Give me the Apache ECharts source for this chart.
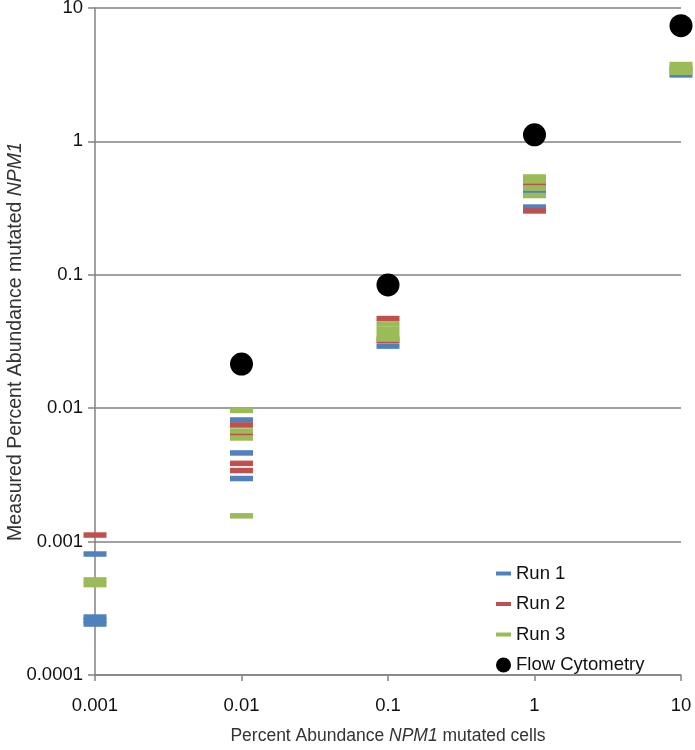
<!DOCTYPE html>
<html>
<head>
<meta charset="utf-8">
<script src="https://cdn.jsdelivr.net/npm/echarts@6/dist/echarts.min.js"></script>
<style>html,body{margin:0;padding:0;background:#fff}#c{width:695px;height:750px}</style>
</head>
<body>
<div id="c"></div>
<script>
var xTickLabels = ['0.001', '0.01', '0.1', '1', '10'];
var yTickLabels = ['0.0001', '0.001', '0.01', '0.1', '1', '10'];
var seriesNames = ['Run 1', 'Run 2', 'Run 3', 'Flow Cytometry'];

var run1 = [
  [0.001, 0.000807], [0.001, 0.000272], [0.001, 0.000256], [0.001, 0.000241],
  [0.01, 0.00816], [0.01, 0.00462], [0.01, 0.00297],
  [0.1, 0.0292],
  [1, 0.410], [1, 0.322],
  [10, 3.15]
];
var run2 = [
  [0.001, 0.00112],
  [0.01, 0.00748], [0.01, 0.00635], [0.01, 0.00386], [0.01, 0.00341],
  [0.1, 0.0470], [0.1, 0.0322],
  [1, 0.470], [1, 0.301],
  [10, 3.5]
];
var run3 = [
  [0.001, 0.000516], [0.001, 0.000476],
  [0.01, 0.00962], [0.01, 0.00675], [0.01, 0.00598], [0.01, 0.00156],
  [0.1, 0.0428], [0.1, 0.0390], [0.1, 0.0356], [0.1, 0.0330],
  [1, 0.541], [1, 0.505], [1, 0.448], [1, 0.393],
  [10, 3.77], [10, 3.49], [10, 3.30]
];
var flow = [
  [0.01, 0.0214], [0.1, 0.0840], [1, 1.12], [10, 7.37]
];

var colors = ['#4F81BD', '#C0504D', '#9BBB59', '#000000'];
var FONT = 'Liberation Sans, Arial, sans-serif';
var dash = 'path://M0,0H15V4H0Z';

function runSeries(name, data, color) {
  return {
    name: name, type: 'scatter', data: data,
    symbol: 'rect', symbolSize: [23, 5.5],
    itemStyle: { color: color, opacity: 1 },
    emphasis: { disabled: true }
  };
}

var chart = echarts.init(document.getElementById('c'), null, { renderer: 'canvas' });
chart.setOption({
  animation: false,
  backgroundColor: '#fff',
  textStyle: { fontFamily: FONT },
  grid: { left: 95, right: 14, top: 8, bottom: 75, containLabel: false, outerBoundsMode: 'none' },
  legend: {
    orient: 'vertical', left: 491, top: 559,
    itemWidth: 15, itemHeight: 15, itemGap: 11.5,
    textStyle: { fontSize: 18.5, color: '#111', fontFamily: FONT, lineHeight: 18 },
    data: [
      { name: seriesNames[0], icon: dash },
      { name: seriesNames[1], icon: dash },
      { name: seriesNames[2], icon: dash },
      { name: seriesNames[3], icon: 'circle' }
    ]
  },
  xAxis: {
    type: 'log', logBase: 10, min: 0.001, max: 10,
    name: '{n|Percent Abundance }{i|NPM1}{n| mutated cells}',
    nameLocation: 'middle', nameGap: 52, nameMoveOverlap: false,
    nameTextStyle: {
      rich: {
        n: { fontSize: 17.5, color: '#333', fontFamily: FONT },
        i: { fontSize: 17.5, color: '#333', fontFamily: FONT, fontStyle: 'italic' }
      }
    },
    axisLine: { show: true, lineStyle: { color: '#828282', width: 1.5 } },
    axisTick: { show: true, inside: false, length: 6, lineStyle: { color: '#828282', width: 1.5 } },
    minorTick: { show: false },
    splitLine: { show: false },
    axisLabel: {
      margin: 21, fontSize: 18.5, color: '#111', fontFamily: FONT,
      formatter: function (v) { return xTickLabels[Math.round(Math.log10(v)) + 3]; }
    }
  },
  yAxis: {
    type: 'log', logBase: 10, min: 0.0001, max: 10,
    name: '{n|Measured Percent Abundance mutated }{i|NPM1}',
    nameLocation: 'middle', nameGap: 69, nameRotate: 90, nameMoveOverlap: false,
    nameTextStyle: {
      rich: {
        n: { fontSize: 19.5, color: '#333', fontFamily: FONT },
        i: { fontSize: 19.5, color: '#333', fontFamily: FONT, fontStyle: 'italic' }
      }
    },
    axisLine: { show: true, lineStyle: { color: '#828282', width: 1.5 } },
    axisTick: { show: true, inside: false, length: 7, lineStyle: { color: '#828282', width: 1.5 } },
    splitLine: { show: true, lineStyle: { color: '#828282', width: 1.5 } },
    axisLabel: {
      margin: 12, fontSize: 18.5, color: '#111', fontFamily: FONT,
      formatter: function (v) { return yTickLabels[Math.round(Math.log10(v)) + 4]; }
    }
  },
  series: [
    runSeries(seriesNames[0], run1, colors[0]),
    runSeries(seriesNames[1], run2, colors[1]),
    runSeries(seriesNames[2], run3, colors[2]),
    {
      name: seriesNames[3], type: 'scatter', data: flow,
      symbol: 'circle', symbolSize: 23,
      itemStyle: { color: colors[3], opacity: 1 },
      emphasis: { disabled: true }
    }
  ]
});
</script>
</body>
</html>
